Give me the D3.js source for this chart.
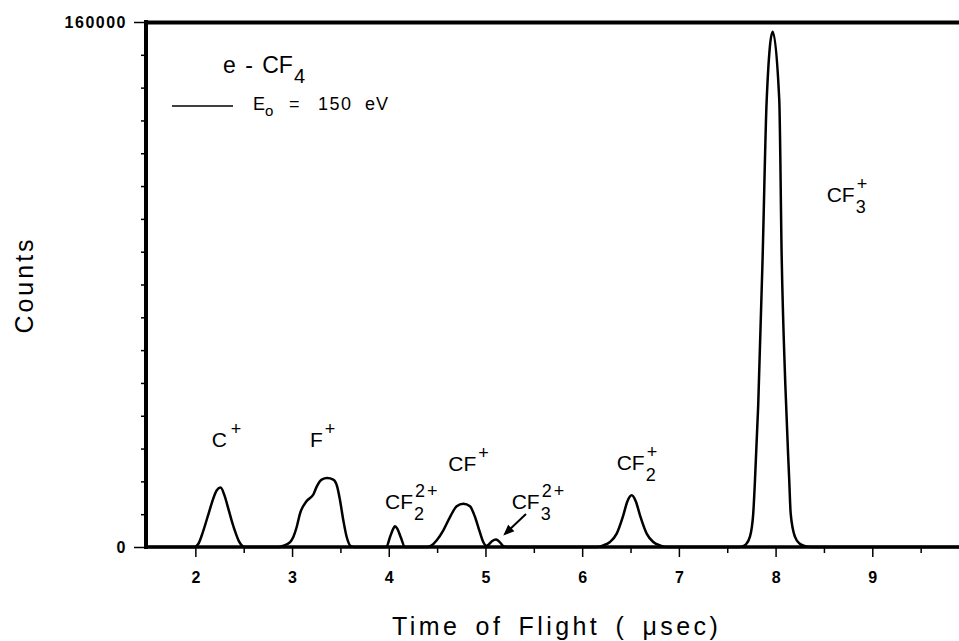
<!DOCTYPE html>
<html>
<head>
<meta charset="utf-8">
<script src="https://cdn.jsdelivr.net/npm/d3@7"></script>
<style>
  body { margin: 0; background: #fff; }
  svg { display: block; font-family: "Liberation Sans", Arial, Helvetica, sans-serif; }
  .tick text { font-size: 16px; font-weight: bold; }
</style>
</head>
<body>
<svg id="chart" width="959" height="641"></svg>
<script>
// spectrum trace: time of flight (usec) and counts
var flightTime = [1.52, 1.99, 2.03, 2.066, 2.10, 2.14, 2.18, 2.22, 2.262, 2.30, 2.34, 2.38, 2.42, 2.45, 2.48, 2.51,
  2.86, 2.90, 2.98, 3.013, 3.048, 3.082, 3.151, 3.22, 3.255, 3.306, 3.364, 3.426, 3.468, 3.496, 3.53, 3.565, 3.606, 3.64,
  3.975, 4.013, 4.047, 4.064, 4.088, 4.123, 4.168,
  4.40, 4.44, 4.496, 4.564, 4.633, 4.702, 4.771, 4.84, 4.892, 4.936, 4.977, 5.013, 5.035, 5.07, 5.109, 5.15, 5.184, 5.22,
  6.15, 6.218, 6.287, 6.357, 6.425, 6.466, 6.512, 6.556, 6.598, 6.667, 6.735, 6.804, 6.874,
  7.62, 7.66, 7.69, 7.735, 7.769, 7.787, 7.82, 7.866, 7.908, 7.97, 8.038, 8.063, 8.10, 8.141, 8.156, 8.20, 8.25, 8.29, 8.37,
  9.95];
var counts = [0, 0, 900, 3500, 6600, 10500, 14300, 17200, 18100, 15800, 11800, 7600, 4000, 1800, 500, 0,
  0, 300, 1520, 3045, 6090, 10170, 14000, 16000, 18400, 20520, 21010, 20520, 18270, 14220, 8130, 3045, 300, 0,
  0, 3045, 5600, 6300, 5600, 3045, 0,
  0, 400, 2040, 5085, 9135, 12390, 13215, 12390, 9135, 5085, 1520, 300, 800, 1800, 2250, 1400, 300, 0,
  0, 500, 1520, 4080, 9650, 13800, 15740, 13800, 9650, 4080, 1520, 500, 0,
  0, 200, 700, 3140, 10270, 20420, 43000, 88470, 136230, 157000, 136230, 88470, 50000, 20420, 10270, 3140, 1000, 400, 0,
  0];

var xTickLabels = [2, 3, 4, 5, 6, 7, 8, 9];
var xMinorTicks = [2.5, 3.5, 4.5, 5.5, 6.5, 7.5, 8.5, 9.5];
var yTickLabels = [0, 160000];

// ion peaks: formula body, subscript, charge
var ionBase = ["C", "F", "CF", "CF", "CF", "CF", "CF"];
var ionSub  = ["",  "",  "2",  "",   "3",  "2",  "3"];
var ionSup  = ["+", "+", "2+", "+",  "2+", "+",  "+"];

var FONT = '"Liberation Sans", Arial, Helvetica, sans-serif';
var svg = d3.select("#chart");

var x = d3.scaleLinear().domain([1.5, 10]).range([147, 969]);
var y = d3.scaleLinear().domain([0, 160000]).range([547, 22]);

// y axis ticks: every 10000, long ones at the labelled ends
var yAxis = d3.axisLeft(y)
    .tickValues(d3.range(0, 160001, 10000))
    .tickSize(5)
    .tickFormat(function(d) { return yTickLabels.indexOf(d) >= 0 ? d : ""; });
var gy = svg.append("g").attr("transform", "translate(146,0)").call(yAxis)
  .attr("font-family", FONT).attr("font-size", null);
gy.select(".domain").remove();
gy.selectAll(".tick line").attr("stroke", "#000").attr("stroke-width", 1.5)
  .attr("x2", function(d) { return yTickLabels.indexOf(d) >= 0 ? -12 : -5; });
gy.selectAll(".tick text")
  .attr("x", -19).attr("dy", "0.36em")
  .style("letter-spacing", "1.5px")
  .attr("fill", "#000");

// x axis: minor then major ticks
var gxMinor = svg.append("g").attr("transform", "translate(0,547)")
  .call(d3.axisBottom(x).tickValues(xMinorTicks).tickSize(6).tickFormat(""));
gxMinor.select(".domain").remove();
gxMinor.selectAll(".tick line").attr("stroke", "#000").attr("stroke-width", 1.5);

var gx = svg.append("g").attr("transform", "translate(0,547)")
  .call(d3.axisBottom(x).tickValues(xTickLabels).tickSize(10))
  .attr("font-family", FONT).attr("font-size", null);
gx.select(".domain").remove();
gx.selectAll(".tick line").attr("stroke", "#000").attr("stroke-width", 1.5);
gx.selectAll(".tick text")
  .attr("y", 36).attr("dy", 0)
  .attr("fill", "#000");

// frame
svg.append("line").attr("x1", 146).attr("x2", 146).attr("y1", y(160000) - 2).attr("y2", y(0) + 2)
  .attr("stroke", "#000").attr("stroke-width", 4);
svg.append("line").attr("x1", 144).attr("x2", 959).attr("y1", y(0)).attr("y2", y(0))
  .attr("stroke", "#000").attr("stroke-width", 3.5);
svg.append("line").attr("x1", 144).attr("x2", 959).attr("y1", y(160000) + 0.5).attr("y2", y(160000) + 0.5)
  .attr("stroke", "#000").attr("stroke-width", 4);

// trace
var pts = flightTime.map(function(t, i) { return [t, counts[i]]; });
var line = d3.line()
  .x(function(d) { return x(d[0]); })
  .y(function(d) { return y(d[1]); })
  .curve(d3.curveMonotoneX);
svg.append("path").datum(pts)
  .attr("d", line)
  .attr("fill", "none").attr("stroke", "#000").attr("stroke-width", 2.5)
  .attr("stroke-linejoin", "round");

// peak labels, anchored at the baseline of the formula body
var ionAnchor = [[2.169, 30570], [3.185, 30570], [3.961, 11490], [4.615, 23250],
                 [5.271, 11490], [6.357, 23470], [8.528, 105230]];
ionBase.forEach(function(b, i) {
  var ax = x(ionAnchor[i][0]), ay = y(ionAnchor[i][1]);
  var t = svg.append("text").attr("x", ax).attr("y", ay)
    .style("font-size", "21px").text(b);
  var w = t.node().getComputedTextLength();
  if (ionSub[i]) {
    svg.append("text").attr("x", ax + w + 1).attr("y", ay + 11)
      .style("font-size", "18px").text(ionSub[i]);
  }
  svg.append("text").attr("x", ax + w + (b === "C" ? 4 : 2)).attr("y", ay - 12)
    .style("font-size", "18px").style("letter-spacing", "2px").text(ionSup[i]);
});

// arrow pointing at the small CF3 2+ bump
var a0 = [x(5.419), y(10057)], a1 = [x(5.184), y(3505)];
var ang = Math.atan2(a1[1] - a0[1], a1[0] - a0[0]);
svg.append("line").attr("x1", a0[0]).attr("y1", a0[1])
  .attr("x2", a1[0] - 8 * Math.cos(ang)).attr("y2", a1[1] - 8 * Math.sin(ang))
  .attr("stroke", "#000").attr("stroke-width", 2);
svg.append("path")
  .attr("d", d3.line()([
    a1,
    [a1[0] - 11 * Math.cos(ang) + 4.5 * Math.sin(ang), a1[1] - 11 * Math.sin(ang) - 4.5 * Math.cos(ang)],
    [a1[0] - 11 * Math.cos(ang) - 4.5 * Math.sin(ang), a1[1] - 11 * Math.sin(ang) + 4.5 * Math.cos(ang)]
  ]) + "Z")
  .attr("fill", "#000");

// legend
var lg = svg.append("g");
var ttl = lg.append("text").attr("x", 223).attr("y", 73).style("font-size", "23px")
  .style("word-spacing", "3px").text("e - CF");
lg.append("text").attr("x", 223 + ttl.node().getComputedTextLength() + 1).attr("y", 83)
  .style("font-size", "20px").text("4");
lg.append("line").attr("x1", 172).attr("x2", 233).attr("y1", 106).attr("y2", 106)
  .attr("stroke", "#000").attr("stroke-width", 1.5);
lg.append("text").attr("x", 253).attr("y", 110).style("font-size", "18px").text("E");
lg.append("text").attr("x", 265).attr("y", 116).style("font-size", "15px").text("o");
lg.append("text").attr("x", 289).attr("y", 110).style("font-size", "18px").text("=");
lg.append("text").attr("x", 318).attr("y", 110).style("font-size", "18px").style("letter-spacing", "1.5px").text("150");
lg.append("text").attr("x", 365).attr("y", 110).style("font-size", "18px").style("letter-spacing", "1px").text("eV");

// axis titles
svg.append("text").attr("transform", "translate(33,285) rotate(-90)")
  .attr("text-anchor", "middle")
  .style("font-size", "25px").style("letter-spacing", "3px")
  .text("Counts");
svg.append("text").attr("x", 392).attr("y", 635)
  .style("font-size", "25px").style("letter-spacing", "3.4px").style("word-spacing", "5px")
  .text("Time of Flight ( \u03bcsec)");
</script>
</body>
</html>
